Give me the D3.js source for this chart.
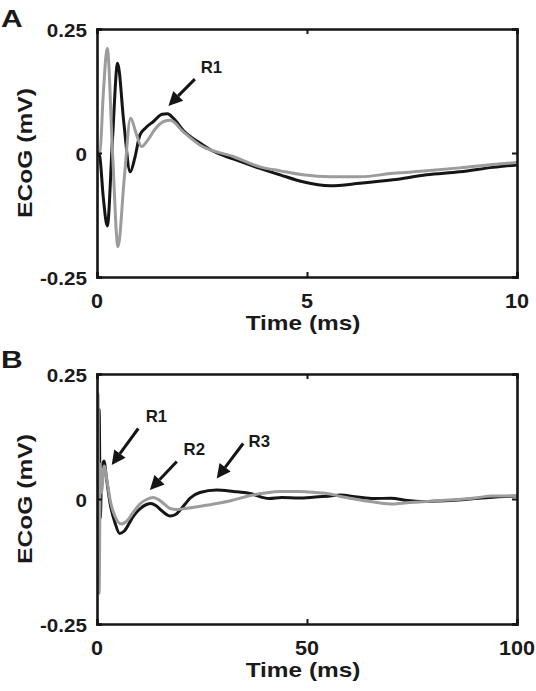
<!DOCTYPE html>
<html>
<head>
<meta charset="utf-8">
<script src="https://cdn.jsdelivr.net/npm/d3@7"></script>
<style>
  html, body { margin: 0; padding: 0; background: #fff; }
  svg { display: block; }
  text { font-family: "Liberation Sans", Arial, Helvetica, sans-serif; font-weight: bold; fill: #1a1a1a; }
</style>
</head>
<body>
<svg id="chart" width="536" height="691"></svg>
<script>
// ---------- DATA ----------
// Panel A (0-10 ms)
const tBlackA = [0, 0.06, 0.15, 0.245, 0.37, 0.49, 0.64, 0.79, 0.9, 1.02, 1.15, 1.35, 1.55, 1.68, 1.82, 2.05, 2.45, 2.71, 3.24, 3.88, 4.36, 4.9, 5.55, 6.26, 7.05, 7.85, 8.64, 9.43, 10];
const vBlackA = [0, -0.005, -0.09, -0.147, 0.03, 0.181, 0.06, -0.038, -0.01, 0.036, 0.05, 0.064, 0.078, 0.079, 0.07, 0.046, 0.02, 0.006, -0.012, -0.031, -0.044, -0.058, -0.066, -0.061, -0.054, -0.044, -0.038, -0.029, -0.024];
const tGrayA = [0, 0.07, 0.15, 0.245, 0.37, 0.5, 0.65, 0.8, 0.93, 1.06, 1.2, 1.4, 1.6, 1.75, 2.05, 2.45, 3.24, 3.88, 4.36, 4.9, 5.55, 6.26, 7.05, 7.85, 8.64, 9.43, 10];
const vGrayA = [0, 0.002, 0.12, 0.211, 0.0, -0.189, -0.05, 0.07, 0.04, 0.013, 0.025, 0.05, 0.064, 0.066, 0.043, 0.016, -0.007, -0.028, -0.036, -0.044, -0.048, -0.048, -0.041, -0.036, -0.030, -0.023, -0.019];

// Panel B (0-100 ms)
const tBlackB = [0, 0.25, 0.5, 0.8, 1.05, 1.65, 2.3, 3.1, 4.3, 5.4, 6.5, 8.6, 10.2, 11.8, 12.8, 14, 15.5, 17.4, 18.7, 19.8, 21, 22.2, 24.5, 28.5, 32.5, 36.4, 41, 44, 48, 52, 55.5, 58, 62, 66, 70, 74, 77, 81, 86, 90, 95, 100];
const vBlackB = [0, -0.147, 0.18, -0.038, 0.036, 0.076, 0.038, -0.008, -0.048, -0.069, -0.064, -0.035, -0.02, -0.011, -0.009, -0.013, -0.024, -0.034, -0.031, -0.022, -0.01, 0.002, 0.013, 0.018, 0.015, 0.011, 0.001, 0.003, 0.002, 0.004, 0.006, 0.008, 0.004, 0.001, 0.0015, -0.003, -0.005, -0.004, -0.002, 0.001, 0.004, 0.006];
const tGrayB = [0, 0.07, 0.25, 0.5, 0.8, 1.06, 1.7, 2.4, 3.2, 4.3, 5.8, 7, 8.6, 10.2, 11.8, 13.4, 14.8, 16, 17.4, 19, 21, 25, 28.5, 32, 36, 40, 43.6, 48, 52, 55.5, 58, 62, 65, 69.8, 74.5, 78.5, 82, 86, 90, 94, 100];
const vGrayB = [0, 0.002, 0.211, -0.189, 0.07, 0.013, 0.066, 0.035, -0.005, -0.035, -0.05, -0.045, -0.027, -0.01, -0.001, 0.003, -0.002, -0.01, -0.019, -0.021, -0.019, -0.014, -0.009, -0.003, 0.006, 0.012, 0.015, 0.015, 0.013, 0.01, 0.005, -0.001, -0.005, -0.01, -0.007, -0.005, -0.003, -0.001, 0.002, 0.006, 0.006];

// Ticks and labels
const yTicks = [-0.25, 0, 0.25];
const yTickLabels = ["-0.25", "0", "0.25"];
const xTicksA = [0, 5, 10];
const xTicksB = [0, 50, 100];
const xLabel = "Time (ms)";
const yLabel = "ECoG (mV)";
const panelLetters = ["A", "B"];

// Annotations (data coordinates: arrow tip, arrow tail, label anchor)
const annotA = [
  { text: "R1", tip: [1.70, 0.095], tail: [2.33, 0.149], lab: [2.47, 0.162] }
];
const annotB = [
  { text: "R1", tip: [3.5, 0.068], tail: [9.83, 0.141], lab: [11.6, 0.154] },
  { text: "R2", tip: [12.6, 0.018], tail: [19.0, 0.075], lab: [20.6, 0.088] },
  { text: "R3", tip: [28.5, 0.041], tail: [34.8, 0.111], lab: [36.1, 0.105] }
];

// ---------- DRAW ----------
const svg = d3.select("#chart");
const BLACK = "#151515";
const GRAY = "#9c9c9c";

function stretchedText(g, x, y, str, size, sx, anchor, rotate) {
  const t = g.append("g")
    .attr("transform", `translate(${x},${y})` + (rotate ? ` rotate(${rotate})` : "") + ` scale(${sx},1)`);
  t.append("text")
    .attr("x", 0).attr("y", 0)
    .attr("text-anchor", anchor)
    .attr("font-size", size)
    .text(str);
  return t;
}

function panel(cfg) {
  const { left, right, top, bottom, xMax, xTicks, series, annots, letter, letterY } = cfg;
  const x = d3.scaleLinear().domain([0, xMax]).range([left, right]);
  const y = d3.scaleLinear().domain([-0.25, 0.25]).range([bottom, top]);
  const g = svg.append("g");

  const clipId = "clip" + letter;
  g.append("clipPath").attr("id", clipId)
    .append("rect").attr("x", left).attr("y", top).attr("width", right - left).attr("height", bottom - top);

  const line = d3.line().x(d => x(d[0])).y(d => y(d[1])).curve(d3.curveMonotoneX);
  series.forEach(s => {
    const pts = s.t.map((tt, i) => [tt, s.v[i]]);
    g.append("path")
      .attr("clip-path", `url(#${clipId})`)
      .attr("d", line(pts))
      .attr("fill", "none")
      .attr("stroke", s.color)
      .attr("stroke-width", 3)
      .attr("stroke-linejoin", "round");
  });

  const axB = d3.axisBottom(x).tickValues(xTicks).tickSize(-5).tickFormat("");
  const axT = d3.axisTop(x).tickValues(xTicks).tickSize(-5).tickFormat("");
  const axL = d3.axisLeft(y).tickValues(yTicks).tickSize(-5).tickFormat("");
  const axR = d3.axisRight(y).tickValues(yTicks).tickSize(-5).tickFormat("");
  [[axB, `translate(0,${bottom})`], [axT, `translate(0,${top})`], [axL, `translate(${left},0)`], [axR, `translate(${right},0)`]]
    .forEach(([ax, tr]) => {
      const a = g.append("g").attr("transform", tr).call(ax);
      a.select(".domain").attr("stroke", BLACK).attr("stroke-width", 2.6);
      a.selectAll(".tick line").attr("stroke", BLACK).attr("stroke-width", 2);
    });

  yTicks.forEach((v, i) => {
    stretchedText(g, left - 10, y(v) + 8, yTickLabels[i], 17.5, 1.18, "end");
  });
  xTicks.forEach(v => {
    stretchedText(g, x(v), bottom + 31, String(v), 20, 1.08, "middle");
  });
  stretchedText(g, (left + right) / 2 - 4, bottom + 53, xLabel, 20, 1.22, "middle");
  stretchedText(g, 32, (top + bottom) / 2, yLabel, 20, 1.23, "middle", -90);
  stretchedText(g, 1, letterY, letter, 24, 1.25, "start");

  annots.forEach(a => {
    const tx = x(a.tip[0]), ty = y(a.tip[1]);
    const sx = x(a.tail[0]), sy = y(a.tail[1]);
    const ang = Math.atan2(ty - sy, tx - sx);
    const headLen = 14, headW = 7;
    const bx = tx - headLen * Math.cos(ang), by = ty - headLen * Math.sin(ang);
    g.append("line")
      .attr("x1", sx).attr("y1", sy).attr("x2", bx).attr("y2", by)
      .attr("stroke", BLACK).attr("stroke-width", 3);
    const px = -Math.sin(ang), py = Math.cos(ang);
    g.append("path")
      .attr("d", `M${tx},${ty}L${bx + headW * px},${by + headW * py}L${bx - headW * px},${by - headW * py}Z`)
      .attr("fill", BLACK);
    stretchedText(g, x(a.lab[0]), y(a.lab[1]), a.text, 16, 1.05, "start");
  });
}

panel({
  left: 97, right: 517, top: 29, bottom: 277, xMax: 10, xTicks: xTicksA,
  series: [
    { t: tBlackA, v: vBlackA, color: BLACK },
    { t: tGrayA, v: vGrayA, color: GRAY }
  ],
  annots: annotA, letter: panelLetters[0], letterY: 27
});

panel({
  left: 97, right: 517, top: 374, bottom: 624, xMax: 100, xTicks: xTicksB,
  series: [
    { t: tBlackB, v: vBlackB, color: BLACK },
    { t: tGrayB, v: vGrayB, color: GRAY }
  ],
  annots: annotB, letter: panelLetters[1], letterY: 368
});
</script>
</body>
</html>
